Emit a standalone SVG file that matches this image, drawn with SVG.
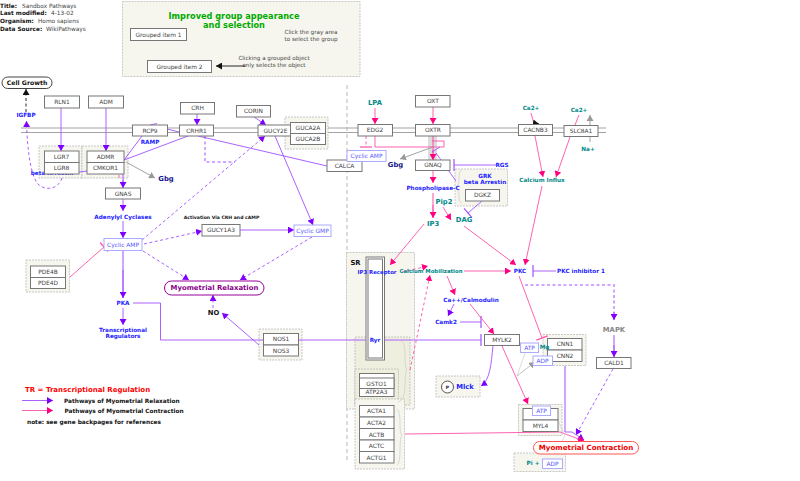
<svg xmlns="http://www.w3.org/2000/svg" width="800" height="481" viewBox="0 0 800 481">
<style>
text{font-family:"DejaVu Sans",sans-serif;font-size:5.900px;fill:#444;text-anchor:middle;dominant-baseline:central}
.g rect{fill:#fff;stroke:#777;stroke-width:1}
.grp{fill:#f6f6ee;stroke:#bbb;stroke-width:.8;stroke-dasharray:2 1}
.m rect{fill:#fff;stroke:#aaf;stroke-width:1}
.m text{fill:#55f}
.b{font-weight:bold;fill:#22f;font-size:5.700px}
.t{font-weight:bold;fill:#088;font-size:5.700px}
.k{font-weight:bold;fill:#111}
.big{font-size:6.800px}
.l{font-weight:bold;fill:#111;font-size:5.800px;text-anchor:start}
.h{text-anchor:start;font-size:5.800px}
.note{font-size:5.600px}
.p,.q,.y,.gr,.bk{fill:none;stroke-width:.9}
.p{stroke:#a050ff;marker-end:url(#ap)}
.q{stroke:#ff50a8;marker-end:url(#aq)}
.y{stroke:#999;marker-end:url(#ay)}
.bk{stroke:#111;marker-end:url(#ak)}
.gr{stroke:#ccc;stroke-width:.7}
.d{stroke-dasharray:3 2.5}
.w{stroke-width:2;stroke-opacity:.5}
.tp{marker-end:url(#tp)}
.tq{marker-end:url(#tq)}
.n{marker-end:none}
</style>
<defs>
<marker id="ap" markerUnits="userSpaceOnUse" markerWidth="8" markerHeight="7" refX="6" refY="3.500" orient="auto"><path d="M0 0L6 3.500L0 7Z" fill="#7f00ff"/></marker>
<marker id="aq" markerUnits="userSpaceOnUse" markerWidth="8" markerHeight="7" refX="6" refY="3.500" orient="auto"><path d="M0 0L6 3.500L0 7Z" fill="#ff0080"/></marker>
<marker id="ay" markerUnits="userSpaceOnUse" markerWidth="8" markerHeight="7" refX="6" refY="3.500" orient="auto"><path d="M0 0L6 3.500L0 7Z" fill="#999"/></marker>
<marker id="ak" markerUnits="userSpaceOnUse" markerWidth="8" markerHeight="7" refX="6" refY="3.500" orient="auto"><path d="M0 0L6 3.500L0 7Z" fill="#111"/></marker>
<marker id="tp" markerUnits="userSpaceOnUse" markerWidth="3" markerHeight="14" refX="1" refY="7" orient="auto"><path d="M1 1V13" stroke="#a050ff" stroke-width="1.200"/></marker>
<marker id="tq" markerUnits="userSpaceOnUse" markerWidth="3" markerHeight="14" refX="1" refY="7" orient="auto"><path d="M1 1V13" stroke="#ff50a8" stroke-width="1.200"/></marker>
</defs>
<rect width="800" height="481" fill="#fff"/>

<!-- header block -->
<g id="header">
<text class="k h" x="0" y="6">Title:</text><text class="h" x="22" y="6">Sandbox Pathways</text>
<text class="k h" x="0" y="13">Last modified:</text><text class="h" x="51" y="13">4-13-02</text>
<text class="k h" x="0" y="21">Organism:</text><text class="h" x="38" y="21">Homo sapiens</text>
<text class="k h" x="0" y="29">Data Source:</text><text class="h" x="46" y="29">WikiPathways</text>
</g>

<g id="demo-group">
<rect class="grp" x="122.500" y="1.500" width="237.500" height="75"/>
<text style="font-weight:bold;font-size:8.200px;fill:#0a0" x="234" y="15.700">Improved group appearance</text>
<text style="font-weight:bold;font-size:8.200px;fill:#0a0" x="234" y="25">and selection</text>
<text class="note" x="311" y="32">Click the gray area</text><text class="note" x="311" y="38.500">to select the group</text>
<text class="note" x="274" y="58">Clicking a grouped object</text><text class="note" x="274" y="64.500">only selects the object</text>
<path class="bk" d="M245 66H216"/>
<g class="g" id="grouped-item-1"><rect x="130.500" y="28.500" width="56" height="12"/><text x="158.500" y="34.500">Grouped item 1</text></g>
<g class="g" id="grouped-item-2"><rect x="147.500" y="60.500" width="64" height="12"/><text x="179.500" y="66.500">Grouped item 2</text></g>
</g>

<!-- membrane and compartment divider -->
<g id="membrane" fill="none" stroke="#999" stroke-width=".9">
<path d="M21 128H606M21 132.500H606"/>
<path d="M347 85V462" stroke-width=".7" stroke-dasharray="4 3"/>
</g>

<!-- compartments and complexes -->
<g id="groups">
<rect class="grp" x="346.500" y="252.500" width="68" height="156.500"/>
<rect class="grp" x="39" y="146" width="43" height="32"/>
<rect class="grp" x="82" y="146" width="46" height="32"/>
<rect class="grp" x="285" y="117" width="43" height="32"/>
<rect class="grp" x="26" y="260" width="43.500" height="32"/>
<rect class="grp" x="259" y="329" width="43" height="31"/>
<rect class="grp" x="455" y="169" width="52.500" height="37"/>
<rect class="grp" x="428" y="136" width="9" height="24" style="stroke:none;fill:#ddd"/>
<rect class="grp" x="355" y="337" width="55" height="68" style="fill:#efefe0"/>
<rect class="grp" x="355" y="369" width="43.500" height="36" style="fill:#eeeedd"/>
<rect class="grp" x="355" y="399" width="49.500" height="70"/>
<rect class="grp" x="436" y="376" width="44" height="21"/>
<rect class="grp" x="543" y="334.500" width="43" height="31"/>
<rect class="grp" x="518.500" y="404.500" width="43.500" height="31"/>
<rect class="grp" x="514" y="453" width="51.500" height="18.500"/>
<path class="gr" d="M462 170Q459 170 459 178Q459 186 456 187Q459 188 459 196Q459 203 462 203"/>
<path class="gr" d="M401 341Q405 342 405 355Q405 370 407 370Q405 372 405 385Q405 401 398 402"/>
<path class="gr" d="M397 409Q400 410 400 425Q400 434 402 435Q400 436 400 450Q400 464 397 465"/>
</g>

<g id="connectors">
<path class="bk d" d="M26 112V89"/>
<path class="p d" d="M62 178C58 190 45 191 38 184C30 175 27 145 26.500 121"/>
<path class="p" d="M61 108V151"/>
<path class="p" d="M106 108V151"/>
<path class="p" d="M197 114V125"/>
<path class="p" d="M254 117L266 125"/>
<path class="p n" d="M142 136L124 160"/>
<path class="p n" d="M188 136L124 160"/>
<path class="p n" d="M167 129L179 132"/>
<path class="p n" d="M150 125L157 123.500"/>
<path class="p n" d="M198 136L327 166"/>
<path class="p n w d" d="M205 136V162H235"/>
<path class="p d" d="M142 240L265 136"/>
<path class="p" d="M275 136L313 225"/>
<path class="y" d="M126 162L155 178"/>
<path class="p n" d="M79 172L87 171"/>
<path class="p n w" d="M123 174V188"/>
<path class="p" d="M123 180V188"/>
<path class="q n" d="M119 175V178"/>
<path class="p" d="M123 199V211"/>
<path class="p" d="M123 221V238"/>
<path class="p d" d="M144 244L202 231"/>
<path class="p" d="M240 230H294"/>
<path class="p d" d="M143 251L189 280"/>
<path class="p d" d="M312 237L240 280"/>
<path class="q tq" d="M70 277L104 247"/>
<path class="p n w" d="M123 250V298"/>
<path class="p" d="M123 270V298"/>
<path class="p" d="M123 308V325"/>
<path class="p tp" d="M133 303H160.500V340H481"/>
<path class="p d" d="M213 308V295"/>
<path class="p" d="M259 345L222 313"/>
<path class="q" d="M375 108V124"/>
<path class="q d" style="marker-end:url(#tq)" d="M366 136V147"/>
<path class="q n" d="M375 136V147H444V141H432"/>
<path class="q" d="M433 107V124"/>
<path class="q n w" d="M433 136V160"/>
<path class="q" d="M433 150V160"/>
<path class="y" d="M433 147L400 159"/>
<path class="p n" d="M432 152L440 147M436 153L456 181"/>
<path class="q" d="M433 171V183"/>
<path class="q n w" d="M433 193V218"/>
<path class="q" d="M433 205V218"/>
<path class="q" d="M443 207L451 220"/>
<path class="p tp" d="M482 201L468 213"/>
<path class="p tp" d="M497 165H454"/>
<path class="q" d="M424 224L390 265"/>
<path class="q" d="M464 226L516 265"/>
<path class="q" d="M542 186L525 265"/>
<path class="q" d="M535 136L543 177"/>
<path class="q" d="M570 137L556 177"/>
<path class="q n" d="M531 113L534 124"/>
<path class="bk" d="M533 123L539 124"/>
<path class="q n" d="M579 115L575 125"/>
<path class="y" d="M590 142V115"/>
<path class="q" d="M464 271H511"/>
<path class="q d" d="M402 272L428 266"/>
<path class="q d" d="M410 370L430 275"/>
<path class="q" d="M447 276L455 295"/>
<path class="p" d="M454 304L448 316"/>
<path class="p tp" d="M460 322H481"/>
<path class="q" d="M470 304L494 334"/>
<path class="p tp" d="M556 271H533"/>
<path class="q tq" d="M519 276L542 338"/>
<path class="p w d n" d="M525 285H614V320"/>
<path class="p" d="M614 312V320"/>
<path class="p n w" d="M614 335V357"/>
<path class="p" d="M614 345V357"/>
<path class="p d" d="M613 369L576 435"/>
<path class="p n w" d="M565 366V432"/>
<path class="p" d="M565 432H572L584 440"/>
<path class="p" d="M493 346C491 365 490 380 481 386"/>
<path class="q" d="M502 346L528 404"/>
<path class="q" d="M405 434L560 432L584 441"/>
<path class="gr" d="M525 353L517 376"/>
<path class="y" style="stroke:#bbb" d="M517 376L535 362"/>
<path class="gr" d="M558 421L565 435L562 441"/>
</g>

<!-- label that sits behind the receptor boxes -->
<g id="beta-arrestin-1"><text class="b" x="52" y="173">beta Arrestin</text></g>

<!-- genes -->
<g class="g" id="RLN1"><rect x="44.500" y="96" width="35" height="12"/><text x="62" y="102">RLN1</text></g>
<g class="g" id="ADM"><rect x="88.500" y="96" width="35" height="12"/><text x="106" y="102">ADM</text></g>
<g class="g" id="CRH"><rect x="180.500" y="102.500" width="34" height="11.500"/><text x="197.500" y="108">CRH</text></g>
<g class="g" id="CORIN"><rect x="236.500" y="105.500" width="34" height="11.500"/><text x="253.500" y="111">CORIN</text></g>
<g class="g" id="RCP9"><rect x="132.500" y="125" width="35" height="11"/><text x="150" y="130.500">RCP9</text></g>
<g class="g" id="CRHR1"><rect x="179.500" y="125" width="34" height="11"/><text x="196.500" y="130.500">CRHR1</text></g>
<g class="g" id="GUCY2E"><rect x="258" y="125" width="35" height="11"/><text x="275.500" y="130.500">GUCY2E</text></g>
<g class="g" id="GUCA2A"><rect x="290.500" y="122.500" width="35" height="11"/><text x="308" y="128">GUCA2A</text></g>
<g class="g" id="GUCA2B"><rect x="290.500" y="133.500" width="35" height="11"/><text x="308" y="139">GUCA2B</text></g>
<g class="g" id="LGR7"><rect x="44.500" y="151" width="34.500" height="11.500"/><text x="61.500" y="156.500">LGR7</text></g>
<g class="g" id="LGR8"><rect x="44.500" y="162.500" width="34.500" height="11.500"/><text x="61.500" y="168">LGR8</text></g>
<g class="g" id="ADMR"><rect x="87" y="151" width="37" height="11.500"/><text x="105.500" y="156.500">ADMR</text></g>
<g class="g" id="CMKOR1"><rect x="87" y="162.500" width="37" height="11.500"/><text x="105.500" y="168">CMKOR1</text></g>
<g class="g" id="GNAS"><rect x="105.500" y="188" width="35" height="11"/><text x="123" y="193.500">GNAS</text></g>
<g class="g" id="GUCY1A3"><rect x="202" y="224.500" width="38" height="11.500"/><text x="221" y="230">GUCY1A3</text></g>
<g class="g" id="PDE4B"><rect x="30.500" y="266" width="35" height="11.500"/><text x="48" y="271.500">PDE4B</text></g>
<g class="g" id="PDE4D"><rect x="30.500" y="277.500" width="35" height="11"/><text x="48" y="283">PDE4D</text></g>
<g class="g" id="NOS1"><rect x="263.500" y="333.500" width="35" height="11.500"/><text x="281" y="339">NOS1</text></g>
<g class="g" id="NOS3"><rect x="263.500" y="345" width="35" height="11"/><text x="281" y="350.500">NOS3</text></g>
<g class="g" id="EDG2"><rect x="358" y="124.500" width="34.500" height="11.500"/><text x="375" y="130">EDG2</text></g>
<g class="g" id="OXT"><rect x="415.500" y="95.500" width="34.500" height="11.500"/><text x="433" y="101">OXT</text></g>
<g class="g" id="OXTR"><rect x="415.500" y="124.500" width="34.500" height="11.500"/><text x="433" y="130">OXTR</text></g>
<g class="g" id="CALCA"><rect x="327" y="160" width="35" height="11.500"/><text x="344.500" y="165.500">CALCA</text></g>
<g class="g" id="GNAQ"><rect x="415.500" y="160" width="34.500" height="10.500"/><text x="433" y="165">GNAQ</text></g>
<g class="g" id="DGKZ"><rect x="465.500" y="189.500" width="34" height="11.500"/><text x="482.500" y="195">DGKZ</text></g>
<g class="g" id="CACNB3"><rect x="518.500" y="124.500" width="34" height="11"/><text x="535.500" y="130">CACNB3</text></g>
<g class="g" id="SLC8A1"><rect x="564" y="125.500" width="34" height="11"/><text x="581" y="131">SLC8A1</text></g>
<g class="g" id="MYLK2"><rect x="484.500" y="334.500" width="35" height="11"/><text x="502" y="340">MYLK2</text></g>
<g class="g" id="CNN1"><rect x="547.500" y="338.500" width="34.500" height="11.500"/><text x="565" y="344">CNN1</text></g>
<g class="g" id="CNN2"><rect x="547.500" y="350" width="34.500" height="11.500"/><text x="565" y="355.500">CNN2</text></g>
<g class="g" id="CALD1"><rect x="596.500" y="357.500" width="34.500" height="11"/><text x="614" y="363">CALD1</text></g>
<g class="g" id="MYL"><rect x="523" y="408.500" width="35" height="11.500"/></g>
<g class="g" id="MYL4"><rect x="523" y="420" width="35" height="11.500"/><text x="540.500" y="426">MYL4</text></g>
<g class="g" id="SR-channel"><rect x="366" y="257" width="18.500" height="103"/><rect x="368" y="259" width="14.500" height="99"/></g>
<g class="g" id="ATP2A3-back"><rect x="359.500" y="373.500" width="34.500" height="11"/></g>
<g class="g" id="ATP2A3"><rect x="359.500" y="385" width="34.500" height="11.500"/><text x="376.500" y="391.500">ATP2A3</text></g>
<g class="g" id="GSTO1"><rect x="359.500" y="378" width="34.500" height="10.500"/><text x="376.500" y="383.500">GSTO1</text></g>
<g class="g" id="ACTA1"><rect x="359.500" y="405.500" width="34.500" height="11.500"/><text x="376.500" y="411">ACTA1</text></g>
<g class="g" id="ACTA2"><rect x="359.500" y="417" width="34.500" height="11.500"/><text x="376.500" y="423">ACTA2</text></g>
<g class="g" id="ACTB"><rect x="359.500" y="428.500" width="34.500" height="11.500"/><text x="376.500" y="434.500">ACTB</text></g>
<g class="g" id="ACTC"><rect x="359.500" y="440" width="34.500" height="11.500"/><text x="376.500" y="446">ACTC</text></g>
<g class="g" id="ACTG1"><rect x="359.500" y="451.500" width="34.500" height="11.500"/><text x="376.500" y="457.500">ACTG1</text></g>

<!-- metabolites -->
<g class="m" id="cAMP-1"><rect x="104" y="238.500" width="38" height="12"/><text x="123" y="244.500">Cyclic AMP</text></g>
<g class="m" id="cGMP"><rect x="294" y="225" width="37" height="11.500"/><text x="312.500" y="230.500">Cyclic GMP</text></g>
<g class="m" id="cAMP-2"><rect x="347" y="150.500" width="39" height="11"/><text x="366.500" y="156">Cyclic AMP</text></g>
<g class="m" id="ATP-1"><rect x="520.500" y="343" width="18" height="9.500"/><text x="529.500" y="348">ATP</text></g>
<g class="m" id="ADP-1"><rect x="533" y="356" width="19.500" height="9.500"/><text x="542.500" y="361">ADP</text></g>
<g class="m" id="ATP-2"><rect x="532.500" y="406" width="18" height="9.500"/><text x="541.500" y="411">ATP</text></g>
<g class="m" id="ADP-2"><rect x="542.500" y="459" width="20" height="9.500"/><text x="552.500" y="464">ADP</text></g>

<!-- labels -->
<g id="cell-growth"><rect x="2" y="77" width="50" height="11.500" rx="5.700" fill="#fff" stroke="#444"/><text class="k" style="font-size:6.200px" x="27" y="82.500">Cell Growth</text></g>
<g id="relaxation"><rect x="164.500" y="281" width="99.500" height="14" rx="7" fill="#fff" stroke="#909"/><text style="font-weight:bold;font-size:6.900px;fill:#808" x="214.500" y="288">Myometrial Relaxation</text></g>
<g id="contraction"><rect x="533.500" y="441.500" width="105" height="12.500" rx="6.200" fill="#fff" stroke="#f55"/><text style="font-weight:bold;font-size:7.100px;fill:#e00" x="586" y="447.500">Myometrial Contraction</text></g>
<g id="IGFBP"><text class="b" x="26" y="115">IGFBP</text></g>
<g id="RAMP"><text class="b" x="150" y="142">RAMP</text></g>
<g id="Gbg-1"><text class="big" style="font-weight:bold;fill:#118" x="166" y="179">Gbg</text></g>
<g id="Adenylyl"><text class="b" x="123" y="216.500">Adenylyl Cyclases</text></g>
<g id="activation-note"><text class="k" style="font-size:4.600px" x="221.500" y="217">Activation Via CRH and cAMP</text></g>
<g id="PKA"><text class="b" x="123" y="303">PKA</text></g>
<g id="TR"><text class="b" x="123" y="329.500">Transcriptional</text><text class="b" x="123" y="336">Regulators</text></g>
<g id="NO"><text class="k big" x="213.500" y="313">NO</text></g>
<g id="LPA"><text class="t big" x="375" y="103">LPA</text></g>
<g id="Gbg-2"><text class="big" style="font-weight:bold;fill:#118" x="395.500" y="165">Gbg</text></g>
<g id="RGS"><text class="b" x="502" y="165">RGS</text></g>
<g id="GRK"><text class="b" x="485" y="175.500">GRK</text><text class="b" x="485" y="182">beta Arrestin</text></g>
<g id="PLC"><text class="b" x="433" y="188">Phospholipase-C</text></g>
<g id="Pip2"><text class="t big" x="444" y="201.500">Pip2</text></g>
<g id="DAG"><text class="t big" x="464" y="220">DAG</text></g>
<g id="IP3"><text class="t big" x="433" y="224">IP3</text></g>
<g id="Ca-1"><text class="t" x="531" y="108">Ca2+</text></g>
<g id="Ca-2"><text class="t" x="579" y="109.500">Ca2+</text></g>
<g id="Na"><text class="t" x="588" y="149">Na+</text></g>
<g id="Influx"><text class="t" x="542" y="180">Calcium Influx</text></g>
<g id="SR"><text class="k big" x="355.500" y="263">SR</text></g>
<g id="IP3R"><text class="b" style="font-size:5.400px" x="377" y="272">IP3 Receptor</text></g>
<g id="Mobilization"><text class="t" style="font-size:5.400px" x="431" y="271">Calcium Mobilization</text></g>
<g id="PKC"><text class="b" x="520" y="271">PKC</text></g>
<g id="PKCi"><text class="b" x="581" y="271">PKC inhibitor 1</text></g>
<g id="CaM"><text class="b" x="471" y="299.500">Ca++/Calmodulin</text></g>
<g id="Camk2"><text class="b" x="446" y="322">Camk2</text></g>
<g id="Ryr"><text class="b" x="375" y="339.500">Ryr</text></g>
<g id="Mlck"><circle cx="447.500" cy="387" r="6" fill="#fff" stroke="#555"/><text class="k" style="font-size:4.500px" x="447.500" y="387">P</text><text class="b big" x="465" y="387">Mlck</text></g>
<g id="Mg"><text class="t" x="544.500" y="347">Mg</text></g>
<g id="MAPK"><text class="big" style="font-weight:bold;fill:#888" x="614" y="330">MAPK</text></g>
<g id="Pi"><text class="t" x="533" y="463">Pi +</text></g>

<!-- key -->
<g id="legend">
<text style="font-weight:bold;font-size:7px;fill:#f00;text-anchor:start" x="25" y="389.500">TR = Transcriptional Regulation</text>
<path class="p" d="M22 400.500H53"/><path class="q" d="M22 410.500H53"/>
<text class="l" x="64" y="400.500">Pathways of Myometrial Relaxation</text>
<text class="l" x="64.500" y="410.500">Pathways of Myometrial Contraction</text>
<text class="l" x="27" y="422">note: see gene backpages for references</text>
</g>
</svg>
